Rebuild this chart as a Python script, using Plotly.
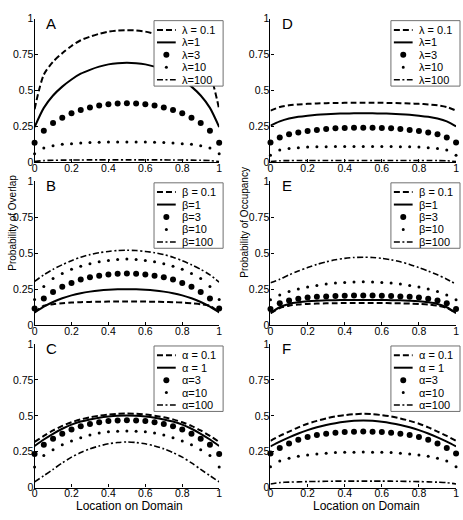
import plotly.graph_objects as go

FONT = "Liberation Sans, Arial, Helvetica, sans-serif"

# ---------------- data ----------------
x_loc = [0.0, 0.05, 0.1, 0.15, 0.2, 0.25, 0.3, 0.35, 0.4, 0.45, 0.5,
         0.55, 0.6, 0.65, 0.7, 0.75, 0.8, 0.85, 0.9, 0.95, 1.0]

y_tick_vals = [0, 0.25, 0.5, 0.75, 1]
y_tick_text = ["0", "0.25", "0.5", "0.75", "1"]
x_tick_vals = [0, 0.2, 0.4, 0.6, 0.8, 1]
x_tick_text = ["0", "0.2", "0.4", "0.6", "0.8", "1"]

lambda_labels = ["λ = 0.1", "λ=1", "λ=3", "λ=10", "λ=100"]
beta_labels = ["β = 0.1", "β=1", "β=3", "β=10", "β=100"]
alpha_labels = ["α = 0.1", "α = 1", "α=3", "α=10", "α=100"]

# Panel A: probability of overlap vs lambda
A_l01 = [0.37, 0.61, 0.70, 0.76, 0.81, 0.85, 0.875, 0.895, 0.91, 0.918, 0.92, 0.918, 0.91, 0.895, 0.875, 0.85, 0.81, 0.76, 0.70, 0.61, 0.37]
A_l1 = [0.245, 0.379, 0.465, 0.527, 0.577, 0.617, 0.644, 0.666, 0.682, 0.690, 0.693, 0.690, 0.682, 0.666, 0.644, 0.617, 0.577, 0.527, 0.465, 0.379, 0.245]
A_l3 = [0.136, 0.22, 0.273, 0.311, 0.341, 0.364, 0.382, 0.395, 0.405, 0.409, 0.411, 0.409, 0.405, 0.395, 0.382, 0.364, 0.341, 0.311, 0.273, 0.22, 0.136]
A_l10 = [0.06, 0.10, 0.115, 0.125, 0.13, 0.135, 0.138, 0.14, 0.141, 0.142, 0.142, 0.142, 0.141, 0.14, 0.138, 0.135, 0.13, 0.125, 0.115, 0.10, 0.06]
A_l100 = [0.005, 0.012, 0.014, 0.015, 0.016, 0.016, 0.017, 0.017, 0.017, 0.017, 0.017, 0.017, 0.017, 0.017, 0.017, 0.016, 0.016, 0.015, 0.014, 0.012, 0.005]

# Panel D: probability of occupancy vs lambda
D_l01 = [0.36, 0.385, 0.397, 0.403, 0.407, 0.41, 0.412, 0.413, 0.414, 0.414, 0.414, 0.414, 0.414, 0.413, 0.412, 0.41, 0.407, 0.403, 0.397, 0.385, 0.36]
D_l1 = [0.255, 0.285, 0.305, 0.317, 0.325, 0.331, 0.335, 0.338, 0.34, 0.341, 0.341, 0.341, 0.34, 0.338, 0.335, 0.331, 0.325, 0.317, 0.305, 0.285, 0.25]
D_l3 = [0.138, 0.172, 0.195, 0.207, 0.218, 0.225, 0.232, 0.237, 0.239, 0.241, 0.241, 0.241, 0.239, 0.237, 0.232, 0.225, 0.218, 0.207, 0.195, 0.172, 0.138]
D_l10 = [0.05, 0.085, 0.097, 0.101, 0.106, 0.108, 0.109, 0.11, 0.11, 0.11, 0.11, 0.11, 0.11, 0.11, 0.109, 0.108, 0.106, 0.101, 0.097, 0.085, 0.05]
D_l100 = [0.005, 0.011, 0.012, 0.013, 0.013, 0.013, 0.013, 0.013, 0.013, 0.013, 0.013, 0.013, 0.013, 0.013, 0.013, 0.013, 0.013, 0.013, 0.012, 0.011, 0.005]

# Panel B: probability of overlap vs beta
B_b01 = [0.09, 0.136, 0.147, 0.153, 0.158, 0.161, 0.163, 0.164, 0.165, 0.165, 0.165, 0.165, 0.165, 0.164, 0.163, 0.161, 0.158, 0.153, 0.147, 0.136, 0.09]
B_b1 = [0.09, 0.13, 0.162, 0.188, 0.208, 0.223, 0.234, 0.242, 0.247, 0.25, 0.251, 0.25, 0.247, 0.242, 0.234, 0.223, 0.208, 0.188, 0.162, 0.13, 0.09]
B_b3 = [0.118, 0.186, 0.231, 0.267, 0.294, 0.317, 0.333, 0.344, 0.353, 0.358, 0.36, 0.358, 0.353, 0.344, 0.333, 0.317, 0.294, 0.267, 0.231, 0.186, 0.118]
B_b10 = [0.18, 0.27, 0.325, 0.36, 0.388, 0.41, 0.427, 0.44, 0.45, 0.457, 0.46, 0.457, 0.45, 0.44, 0.427, 0.41, 0.388, 0.36, 0.325, 0.27, 0.18]
B_b100 = [0.305, 0.35, 0.388, 0.42, 0.448, 0.472, 0.49, 0.503, 0.512, 0.518, 0.52, 0.518, 0.512, 0.503, 0.49, 0.472, 0.448, 0.42, 0.388, 0.35, 0.30]

# Panel E: probability of occupancy vs beta
E_b01 = [0.085, 0.121, 0.137, 0.145, 0.149, 0.151, 0.153, 0.154, 0.155, 0.155, 0.155, 0.155, 0.155, 0.154, 0.153, 0.151, 0.149, 0.145, 0.137, 0.121, 0.085]
E_b1 = [0.085, 0.126, 0.149, 0.16, 0.167, 0.171, 0.174, 0.175, 0.176, 0.176, 0.176, 0.176, 0.176, 0.175, 0.174, 0.171, 0.167, 0.16, 0.149, 0.126, 0.085]
E_b3 = [0.114, 0.153, 0.172, 0.185, 0.193, 0.198, 0.201, 0.204, 0.206, 0.207, 0.207, 0.207, 0.206, 0.204, 0.201, 0.198, 0.193, 0.185, 0.172, 0.153, 0.114]
E_b10 = [0.178, 0.21, 0.234, 0.252, 0.266, 0.277, 0.286, 0.293, 0.297, 0.3, 0.302, 0.3, 0.297, 0.293, 0.286, 0.277, 0.266, 0.252, 0.234, 0.21, 0.178]
E_b100 = [0.295, 0.32, 0.35, 0.376, 0.40, 0.422, 0.44, 0.454, 0.464, 0.47, 0.472, 0.47, 0.464, 0.454, 0.44, 0.422, 0.40, 0.376, 0.35, 0.32, 0.285]

# Panel C: probability of overlap vs alpha
C_a01 = [0.318, 0.36, 0.398, 0.43, 0.455, 0.475, 0.49, 0.501, 0.509, 0.514, 0.516, 0.514, 0.509, 0.501, 0.49, 0.475, 0.455, 0.43, 0.398, 0.36, 0.318]
C_a1 = [0.29, 0.335, 0.375, 0.41, 0.439, 0.46, 0.475, 0.487, 0.495, 0.5, 0.502, 0.5, 0.495, 0.487, 0.475, 0.46, 0.439, 0.41, 0.375, 0.335, 0.29]
C_a3 = [0.234, 0.298, 0.341, 0.375, 0.405, 0.427, 0.443, 0.455, 0.464, 0.468, 0.47, 0.468, 0.464, 0.455, 0.443, 0.427, 0.405, 0.375, 0.341, 0.298, 0.234]
C_a10 = [0.143, 0.223, 0.264, 0.298, 0.325, 0.348, 0.366, 0.38, 0.389, 0.393, 0.395, 0.393, 0.389, 0.38, 0.366, 0.348, 0.325, 0.298, 0.264, 0.223, 0.143]
C_a100 = [0.04, 0.083, 0.127, 0.172, 0.212, 0.244, 0.27, 0.29, 0.305, 0.314, 0.318, 0.314, 0.305, 0.29, 0.27, 0.244, 0.212, 0.172, 0.127, 0.083, 0.04]

# Panel F: probability of occupancy vs alpha
F_a01 = [0.326, 0.36, 0.39, 0.42, 0.445, 0.465, 0.482, 0.496, 0.505, 0.511, 0.514, 0.511, 0.505, 0.496, 0.482, 0.465, 0.445, 0.42, 0.39, 0.36, 0.326]
F_a1 = [0.287, 0.32, 0.35, 0.377, 0.4, 0.42, 0.436, 0.449, 0.459, 0.465, 0.468, 0.465, 0.459, 0.449, 0.436, 0.42, 0.4, 0.377, 0.35, 0.32, 0.287]
F_a3 = [0.238, 0.276, 0.308, 0.333, 0.353, 0.367, 0.376, 0.382, 0.387, 0.389, 0.39, 0.389, 0.387, 0.382, 0.376, 0.367, 0.353, 0.333, 0.308, 0.276, 0.238]
F_a10 = [0.145, 0.186, 0.204, 0.219, 0.228, 0.235, 0.24, 0.244, 0.246, 0.247, 0.248, 0.247, 0.246, 0.244, 0.24, 0.235, 0.228, 0.219, 0.204, 0.186, 0.145]
F_a100 = [0.025, 0.035, 0.038, 0.04, 0.042, 0.043, 0.044, 0.045, 0.045, 0.045, 0.045, 0.045, 0.045, 0.045, 0.044, 0.043, 0.042, 0.04, 0.038, 0.035, 0.025]

# (letter, row, col, legend labels, series)
panels = [
    ("A", 0, 0, lambda_labels, [A_l01, A_l1, A_l3, A_l10, A_l100]),
    ("B", 1, 0, beta_labels, [B_b01, B_b1, B_b3, B_b10, B_b100]),
    ("C", 2, 0, alpha_labels, [C_a01, C_a1, C_a3, C_a10, C_a100]),
    ("D", 0, 1, lambda_labels, [D_l01, D_l1, D_l3, D_l10, D_l100]),
    ("E", 1, 1, beta_labels, [E_b01, E_b1, E_b3, E_b10, E_b100]),
    ("F", 2, 1, alpha_labels, [F_a01, F_a1, F_a3, F_a10, F_a100]),
]

# ---------------- layout geometry (pixels) ----------------
W, H = 463, 520
col_px = [(32, 219), (271, 459)]
row_px = [(13, 160), (179, 327), (346, 493)]


def px2x(p):
    return p / W


def px2y(p):
    return 1 - p / H


DASH = "6px,3px"
DASHDOT = "6px,2.5px,2px,2.5px"
styles = [
    dict(mode="lines", line=dict(color="black", width=2, dash=DASH, shape="spline", smoothing=0.8)),
    dict(mode="lines", line=dict(color="black", width=2, shape="spline", smoothing=0.8)),
    dict(mode="markers", marker=dict(color="black", size=6, line=dict(width=0))),
    dict(mode="markers", marker=dict(color="black", size=3, line=dict(width=0))),
    dict(mode="lines", line=dict(color="black", width=1.6, dash=DASHDOT, shape="spline", smoothing=0.8)),
]

axis_common = dict(
    range=[0, 1], showline=True, linecolor="black", linewidth=1.3,
    ticks="inside", ticklen=3, tickwidth=1, tickcolor="black",
    showgrid=False, zeroline=False, mirror=False, fixedrange=True,
    tickfont=dict(size=10.5, color="black", family=FONT),
)

fig = go.Figure()
layout_axes = {}
shapes = []
annotations = []

for i, (letter, r, c, labels, series) in enumerate(panels):
    n = i + 1
    xa = "x" if n == 1 else f"x{n}"
    ya = "y" if n == 1 else f"y{n}"
    xkey = "xaxis" if n == 1 else f"xaxis{n}"
    ykey = "yaxis" if n == 1 else f"yaxis{n}"
    x0p, x1p = col_px[c]
    y0p, y1p = row_px[r]
    layout_axes[xkey] = dict(axis_common, domain=[px2x(x0p), px2x(x1p)], anchor=ya,
                             tickvals=x_tick_vals, ticktext=x_tick_text, ticklabelstandoff=-4)
    layout_axes[ykey] = dict(axis_common, domain=[px2y(y1p), px2y(y0p)], anchor=xa,
                             tickvals=y_tick_vals, ticktext=y_tick_text, ticklabelstandoff=-2)

    for s, (vals, lab) in enumerate(zip(series, labels)):
        fig.add_trace(go.Scatter(x=x_loc, y=vals, xaxis=xa, yaxis=ya, name=lab,
                                 showlegend=False, cliponaxis=False, hoverinfo="skip",
                                 **styles[s]))

    # panel letter
    annotations.append(dict(text=letter, xref="paper", yref="paper",
                            x=px2x(x0p + 10), y=px2y(y0p + 5), xanchor="left", yanchor="middle",
                            showarrow=False, font=dict(size=15, color="black", family=FONT)))

    # legend box
    bl, br = x1p - 66, x1p + 4
    bt = y0p + 2
    bb = bt + 67
    shapes.append(dict(type="rect", xref="paper", yref="paper",
                       x0=px2x(bl), x1=px2x(br), y0=px2y(bb), y1=px2y(bt),
                       fillcolor="white", line=dict(color="#707070", width=1), layer="above"))
    for s, lab in enumerate(labels):
        yc = bt + 9.5 + s * 12.75
        if s in (0, 1, 4):
            ln = dict(color="black", width=styles[s]["line"]["width"])
            if "dash" in styles[s]["line"]:
                ln["dash"] = styles[s]["line"]["dash"]
            shapes.append(dict(type="line", xref="paper", yref="paper",
                               x0=px2x(bl + 3), x1=px2x(bl + 22), y0=px2y(yc), y1=px2y(yc),
                               line=ln, layer="above"))
        else:
            rad = styles[s]["marker"]["size"] / 2
            shapes.append(dict(type="circle", xref="paper", yref="paper",
                               xsizemode="pixel", ysizemode="pixel",
                               xanchor=px2x(bl + 12.5), yanchor=px2y(yc),
                               x0=-rad, x1=rad, y0=-rad, y1=rad,
                               fillcolor="black", line=dict(width=0), layer="above"))
        annotations.append(dict(text=lab, xref="paper", yref="paper",
                                x=px2x(bl + 26), y=px2y(yc), xanchor="left", yanchor="middle",
                                showarrow=False, font=dict(size=11, color="black", family=FONT)))

# axis titles
annotations.append(dict(text="Probability of Overlap", xref="paper", yref="paper",
                        x=px2x(10), y=px2y(222), textangle=-90, xanchor="center", yanchor="middle",
                        showarrow=False, font=dict(size=10, color="black", family=FONT)))
annotations.append(dict(text="Probability of Occupancy", xref="paper", yref="paper",
                        x=px2x(245), y=px2y(221), textangle=-90, xanchor="center", yanchor="middle",
                        showarrow=False, font=dict(size=10, color="black", family=FONT)))
for c in range(2):
    x0p, x1p = col_px[c]
    annotations.append(dict(text="Location on Domain", xref="paper", yref="paper",
                            x=px2x((x0p + x1p) / 2 + 3), y=px2y(512), xanchor="center", yanchor="middle",
                            showarrow=False, font=dict(size=12, color="black", family=FONT)))

fig.update_layout(
    width=W, height=H, margin=dict(l=0, r=0, t=0, b=0),
    paper_bgcolor="white", plot_bgcolor="white",
    font=dict(family=FONT, color="black"),
    showlegend=False, shapes=shapes, annotations=annotations,
    **layout_axes,
)

fig.write_html("out.html")
